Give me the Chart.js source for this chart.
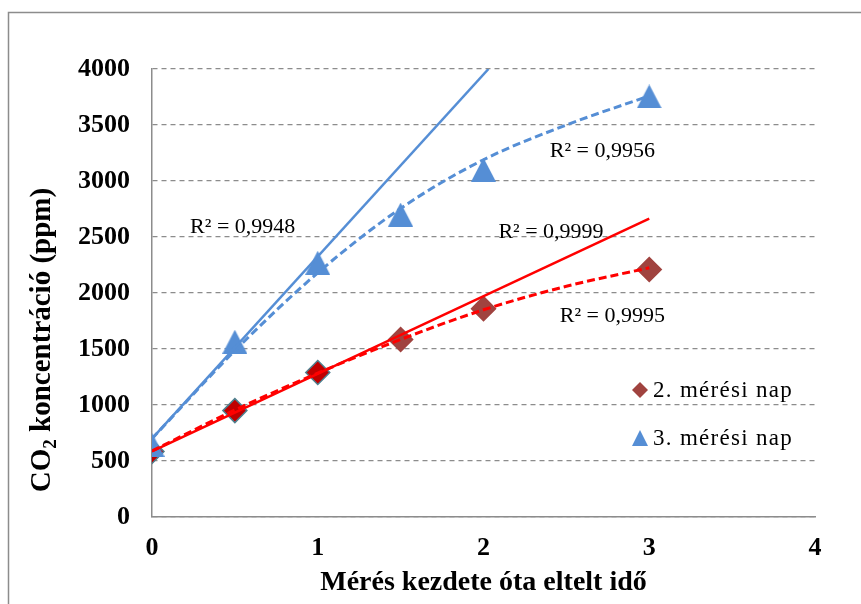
<!DOCTYPE html>
<html>
<head>
<meta charset="utf-8">
<script src="https://cdn.jsdelivr.net/npm/chart.js@4"></script>
<style>
  body { margin: 0; background: #fff; }
</style>
</head>
<body>
<canvas id="myChart" width="861" height="604"></canvas>
<script>
// measured points
const xs = [0, 0.5, 1, 1.5, 2, 3];
const day2 = [585, 950, 1290, 1585, 1860, 2210];
const day3 = [645, 1565, 2270, 2700, 3100, 3755];

// trend lines
const lineX2 = [0, 3];
const line2 = [585, 2665];
const lineX3 = [0, 2.03];
const line3 = [700, 4000];
const curveX = [0, 0.5, 1, 1.5, 2, 2.5, 3];
const curve2 = [590, 955, 1285, 1585, 1850, 2060, 2225];
const curve3 = [700, 1485, 2180, 2755, 3190, 3500, 3760];

const seriesNames = ["2. mérési nap", "3. mérési nap"];
const r2Texts = ["R² = 0,9948", "R² = 0,9956", "R² = 0,9999", "R² = 0,9995"];
const r2X = [0.23, 2.40, 2.09, 2.46];
const r2Y = [2586, 3266, 2541, 1790];

const RED = "#FF0000";
const BLUE = "#558ED5";
const BROWN = "#A0433F";
const SERIF = "'Liberation Serif', 'Times New Roman', serif";

function pts(xv, yv) {
  return xv.map((x, i) => ({x: x, y: yv[i]}));
}

// triangle marker centred on its box (the built-in one sits on the circumcentre)
function triangleMarker(w, h, color) {
  const c = document.createElement("canvas");
  c.width = w; c.height = h;
  const g = c.getContext("2d");
  g.fillStyle = color;
  g.beginPath();
  g.moveTo(w / 2, 0); g.lineTo(w, h); g.lineTo(0, h);
  g.closePath(); g.fill();
  return c;
}

// outer frame, R² labels, legend and the y title with subscript
const decor = {
  id: "decor",
  beforeDraw(chart) {
    const ctx = chart.ctx;
    ctx.save();
    ctx.fillStyle = "#fff";
    ctx.fillRect(0, 0, chart.width, chart.height);
    ctx.strokeStyle = "#8c8c8c";
    ctx.lineWidth = 1.5;
    ctx.strokeRect(8.5, 12.5, 900, 700);
    ctx.restore();
  },
  afterDraw(chart) {
    const ctx = chart.ctx;
    const sx = chart.scales.x, sy = chart.scales.y;
    const area = chart.chartArea;
    ctx.save();
    ctx.fillStyle = "#000";
    ctx.textBaseline = "middle";
    ctx.textAlign = "left";
    ctx.font = "22px " + SERIF;
    r2Texts.forEach((t, i) => {
      ctx.fillText(t, sx.getPixelForValue(r2X[i]), sy.getPixelForValue(r2Y[i]));
    });

    // legend
    const lx = area.right - 175;
    const rows = [area.top + 321, area.top + 369];
    ctx.fillStyle = BROWN;
    ctx.beginPath();
    ctx.moveTo(lx, rows[0] - 8); ctx.lineTo(lx + 8, rows[0]);
    ctx.lineTo(lx, rows[0] + 8); ctx.lineTo(lx - 8, rows[0]);
    ctx.closePath(); ctx.fill();
    ctx.fillStyle = BLUE;
    ctx.beginPath();
    ctx.moveTo(lx, rows[1] - 8); ctx.lineTo(lx + 8, rows[1] + 8);
    ctx.lineTo(lx - 8, rows[1] + 8);
    ctx.closePath(); ctx.fill();
    ctx.fillStyle = "#000";
    ctx.font = "23px " + SERIF;
    ctx.letterSpacing = "1.3px";
    seriesNames.forEach((n, i) => ctx.fillText(n, lx + 13, rows[i] + 1));
    ctx.letterSpacing = "0px";

    // y axis title
    ctx.translate(40, 340);
    ctx.rotate(-Math.PI / 2);
    const big = "bold 29px " + SERIF, small = "bold 19px " + SERIF;
    const rest = " koncentráció (ppm)";
    ctx.font = big;
    const wCO = ctx.measureText("CO").width, wRest = ctx.measureText(rest).width;
    ctx.font = small;
    const w2 = ctx.measureText("2").width;
    const x0 = -(wCO + w2 + wRest) / 2;
    ctx.textAlign = "left";
    ctx.textBaseline = "alphabetic";
    ctx.font = big;
    ctx.fillText("CO", x0, 10);
    ctx.font = small;
    ctx.fillText("2", x0 + wCO, 16);
    ctx.font = big;
    ctx.fillText(rest, x0 + wCO + w2, 10);
    ctx.restore();
  }
};

new Chart("myChart", {
  type: "scatter",
  data: {
    datasets: [{
      data: pts(lineX2, line2),
      showLine: true,
      borderColor: RED,
      borderWidth: 2.5,
      pointRadius: 0
    }, {
      data: pts(curveX, curve2),
      showLine: true,
      borderColor: RED,
      borderWidth: 3,
      borderDash: [8, 4],
      cubicInterpolationMode: "monotone",
      pointRadius: 0
    }, {
      data: pts(lineX3, line3),
      showLine: true,
      borderColor: BLUE,
      borderWidth: 2.5,
      pointRadius: 0
    }, {
      data: pts(curveX, curve3),
      showLine: true,
      borderColor: BLUE,
      borderWidth: 3,
      borderDash: [8, 4],
      cubicInterpolationMode: "monotone",
      pointRadius: 0
    }, {
      // triangles sit above the diamonds where they overlap at x = 0
      label: seriesNames[1],
      data: pts(xs, day3),
      pointStyle: triangleMarker(25, 24, BLUE),
      pointRadius: 13
    }, {
      label: seriesNames[0],
      data: pts(xs, day2),
      pointStyle: "rectRot",
      pointRadius: 12,
      pointBackgroundColor: c => c.dataIndex < 3 ? "#C00000" : BROWN,
      pointBorderColor: c => c.dataIndex < 3 ? "#4E7F8E" : BROWN,
      pointBorderWidth: 1.5
    }]
  },
  options: {
    responsive: false,
    animation: false,
    layout: {padding: {left: 0, top: 69, right: 46, bottom: 0}},
    plugins: {
      legend: {display: false},
      tooltip: {enabled: false}
    },
    scales: {
      x: {
        type: "linear",
        min: 0,
        max: 4,
        afterFit: s => { s.height = 87; },
        grid: {display: false, drawTicks: false},
        border: {display: true, color: "#8c8c8c", width: 1.5},
        ticks: {
          stepSize: 1,
          padding: 16,
          color: "#000",
          font: {family: SERIF, size: 26, weight: "bold"}
        },
        title: {
          display: true,
          text: "Mérés kezdete óta eltelt idő",
          color: "#000",
          padding: {top: 0},
          font: {family: SERIF, size: 28, weight: "bold"}
        }
      },
      y: {
        min: 0,
        max: 4000,
        afterFit: s => { s.width = 152; },
        grid: {color: "#8c8c8c", lineWidth: 1.2, drawTicks: false},
        border: {display: true, color: "#8c8c8c", width: 1.5, dash: [5, 4]},
        ticks: {
          stepSize: 500,
          padding: 22,
          color: "#000",
          callback: v => String(v),
          font: {family: SERIF, size: 26, weight: "bold"}
        }
      }
    }
  },
  plugins: [decor]
});
</script>
</body>
</html>
